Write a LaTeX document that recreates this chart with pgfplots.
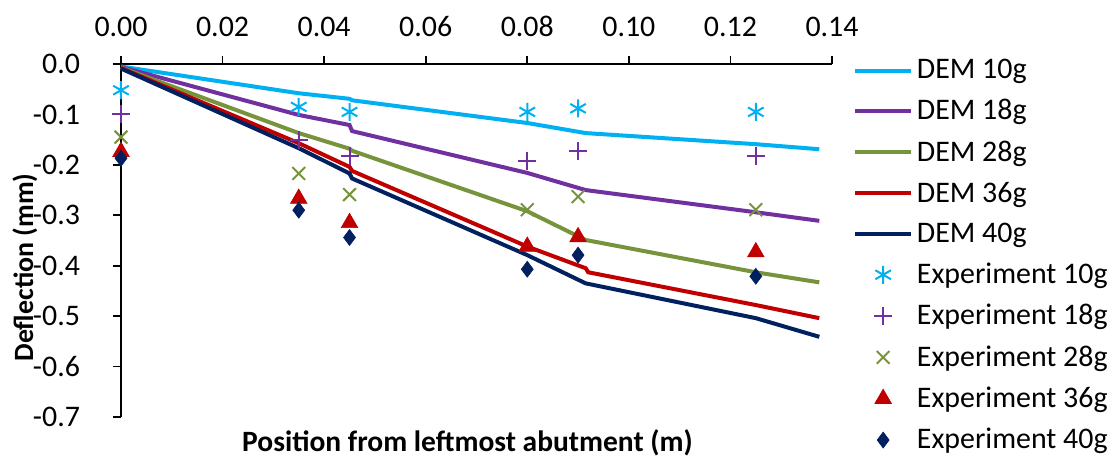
\documentclass[border=0pt]{standalone}
\usepackage{fontspec}
\setmainfont{Carlito}
\usepackage{pgfplots}
\pgfplotsset{compat=1.18}

\definecolor{cTen}{HTML}{00B0F0}
\definecolor{cEighteen}{HTML}{7030A0}
\definecolor{cTwentyEight}{HTML}{77933C}
\definecolor{cThirtySix}{HTML}{C00000}
\definecolor{cForty}{HTML}{002060}

\begin{document}
\begin{tikzpicture}
\begin{axis}[
  name=ax,
  scale only axis,
  width=355.5bp, height=176.5bp,
  xmin=0, xmax=0.14, ymin=-0.7, ymax=0,
  axis x line*=top, axis y line*=left,
  axis line style={line width=0.8bp, black},
  tick style={line width=0.8bp, black},
  tick align=outside,
  major tick length=4bp,
  xtick={0,0.02,0.04,0.06,0.08,0.10,0.12,0.14},
  ytick={-0.7,-0.6,-0.5,-0.4,-0.3,-0.2,-0.1,0},
  xticklabel style={font=\fontsize{15}{18}\selectfont, yshift=6bp,
    /pgf/number format/.cd, fixed, fixed zerofill, precision=2, assume math mode=true},
  yticklabel style={font=\fontsize{15}{18}\selectfont, xshift=-13bp,
    /pgf/number format/.cd, fixed, fixed zerofill, precision=1, assume math mode=true},
  clip=false,
  legend style={at={(axis description cs:1,1)}, anchor=north west,
    xshift=7.5bp, yshift=6.5bp, draw=none, fill=none,
    font=\fontsize{15}{18}\selectfont, row sep=4.9bp},
  legend cell align=left,
  legend image code/.code={
    \draw[mark repeat=2, mark phase=2] plot coordinates {(0cm,0cm) (0.49cm,0cm) (0.98cm,0cm)};},
  every axis plot/.append style={line width=2bp},
]

% DEM lines
\addplot[cTen, no marks] coordinates {
  (0,-0.005) (0.035,-0.058) (0.045,-0.069) (0.0455,-0.072) (0.08,-0.117)
  (0.0915,-0.137) (0.125,-0.159) (0.1375,-0.169)
};
\addlegendentry{DEM 10g}
\addplot[cEighteen, no marks] coordinates {
  (0,-0.006) (0.035,-0.101) (0.045,-0.121) (0.0455,-0.133) (0.08,-0.216)
  (0.0915,-0.250) (0.125,-0.294) (0.1375,-0.311)
};
\addlegendentry{DEM 18g}
\addplot[cTwentyEight, no marks] coordinates {
  (0,-0.007) (0.035,-0.137) (0.045,-0.168) (0.0455,-0.172) (0.08,-0.292)
  (0.0915,-0.349) (0.125,-0.413) (0.1375,-0.433)
};
\addlegendentry{DEM 28g}
\addplot[cThirtySix, no marks] coordinates {
  (0,-0.008) (0.035,-0.157) (0.045,-0.204) (0.0455,-0.212) (0.08,-0.362)
  (0.0915,-0.405) (0.092,-0.413) (0.125,-0.478) (0.1375,-0.504)
};
\addlegendentry{DEM 36g}
\addplot[cForty, no marks] coordinates {
  (0,-0.009) (0.035,-0.167) (0.045,-0.217) (0.0455,-0.227) (0.08,-0.379)
  (0.0915,-0.435) (0.125,-0.504) (0.1375,-0.541)
};
\addlegendentry{DEM 40g}

% Experiments
\addplot[cTen, only marks, mark=asterisk, mark size=4.5bp, mark options={line width=1bp}] coordinates {
  (0,-0.052) (0.035,-0.085) (0.045,-0.095) (0.08,-0.095) (0.09,-0.088) (0.125,-0.095)
};
\addlegendentry{Experiment 10g}
\addplot[cEighteen, only marks, mark=+, mark size=4.5bp, mark options={line width=1bp}] coordinates {
  (0,-0.099) (0.035,-0.151) (0.045,-0.183) (0.08,-0.192) (0.09,-0.172) (0.125,-0.183)
};
\addlegendentry{Experiment 18g}
\addplot[cTwentyEight, only marks, mark=x, mark size=4.5bp, mark options={line width=1bp}] coordinates {
  (0,-0.145) (0.035,-0.217) (0.045,-0.259) (0.08,-0.289) (0.09,-0.263) (0.125,-0.289)
};
\addlegendentry{Experiment 28g}
\addplot[cThirtySix, only marks, mark=triangle*, mark size=4.8bp, mark options={line width=0.3bp}] coordinates {
  (0,-0.174) (0.035,-0.267) (0.045,-0.315) (0.08,-0.362) (0.09,-0.343) (0.125,-0.373)
};
\addlegendentry{Experiment 36g}
\addplot[cForty, only marks, mark=diamond*, mark size=4bp, mark options={line width=0.3bp}] coordinates {
  (0,-0.187) (0.035,-0.290) (0.045,-0.344) (0.08,-0.407) (0.09,-0.379) (0.125,-0.421)
};
\addlegendentry{Experiment 40g}

\end{axis}
\node[font=\bfseries\fontsize{14.8}{17}\selectfont, anchor=north, inner sep=0pt]
  at ([xshift=-4.5bp, yshift=-6bp]ax.south) {Position from leftmost abutment (m)};
\node[font=\bfseries\fontsize{14}{17}\selectfont, rotate=90, anchor=center, inner sep=0pt]
  at ([xshift=-48bp, yshift=-13.5bp]ax.west) {Deflection (mm)};
\pgfresetboundingbox
\path ([shift={(-60.5bp,-19.5bp)}]ax.south west) rectangle ([shift={(139bp,32bp)}]ax.north east);
\end{tikzpicture}
\end{document}
